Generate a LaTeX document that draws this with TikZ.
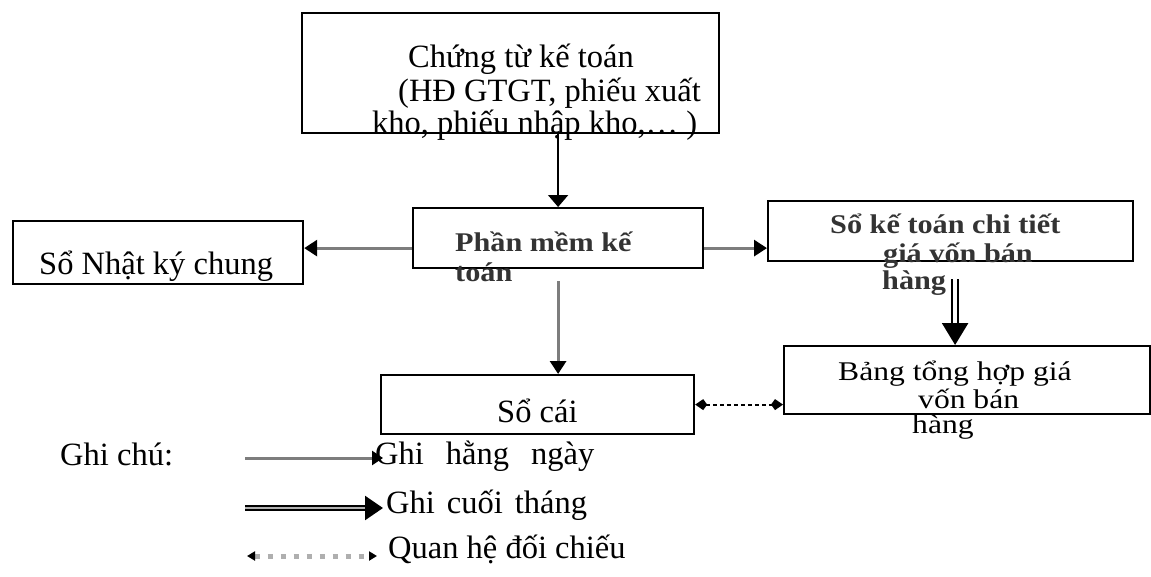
\documentclass[tikz,border=0pt]{standalone}
\usepackage{fontspec}
\setmainfont{Liberation Serif}
\newfontfamily\boxfont[FakeStretch=1.12]{Liberation Serif}
\newfontfamily\tablefont[FakeStretch=1.17]{Liberation Serif}
\usetikzlibrary{arrows.meta,calc}
\definecolor{linegray}{RGB}{125,125,125}
\definecolor{dotgray}{RGB}{175,175,175}

\begin{document}
\begin{tikzpicture}[x=1pt,y=-1pt,
  box/.style={draw=black, line width=2.2pt, rectangle, inner sep=0pt, anchor=north west},
  txt/.style={inner sep=0pt, anchor=base west, font=\fontsize{32.5}{36}\selectfont},
  boldtxt/.style={inner sep=0pt, anchor=base west, font=\boxfont\bfseries\fontsize{27}{30}\selectfont, text=black!80},
  tabtxt/.style={inner sep=0pt, anchor=base west, font=\tablefont\fontsize{27}{30}\selectfont},
  dailyarrow/.style={draw=linegray, line width=3pt, -{Triangle[length=13pt,width=16pt,color=black]}},
  mainarrow/.style={draw=black, line width=2pt, -{Triangle[length=12pt,width=20pt]}},
  montharrow/.style={draw=black, double=white, double distance=3.5pt, line width=2.6pt, -{Triangle[length=22pt,width=26pt]}},
  checkarrow/.style={draw=black, line width=2pt, dash pattern=on 4pt off 3pt,
    {Kite[length=12pt,width=11pt,inset=4pt]}-{Kite[length=12pt,width=11pt,inset=4pt]}},
]
\useasboundingbox (0,0) rectangle (1151,576);

% boxes
\node[box, minimum width=417pt, minimum height=120pt] (tb)  at (301,12)  {};
\node[box, minimum width=290pt, minimum height=60pt]  (pm)  at (412,207) {};
\node[box, minimum width=290pt, minimum height=63pt]  (snk) at (12,220)  {};
\node[box, minimum width=365pt, minimum height=60pt]  (skt) at (767,200) {};
\node[box, minimum width=366pt, minimum height=68pt]  (bth) at (783,345) {};
\node[box, minimum width=313pt, minimum height=59pt]  (sc)  at (380,374) {};

% box texts
\node[txt] (tb1) at (408,67)  {Chứng từ kế toán};
\node[txt] (tb2) at (398,101) {(HĐ GTGT, phiếu xuất};
\node[txt] (tb3) at (372,133) {kho, phiếu nhập kho,… )};
\node[txt] (snkt) at (39,274) {Sổ Nhật ký chung};
\node[boldtxt] (pm1) at (455,251) {Phần mềm kế};
\node[boldtxt] (pm2) at (455,281) {toán};
\node[boldtxt] (skt1) at (830,233) {Sổ kế toán chi tiết};
\node[boldtxt] (skt2) at (883,262) {giá vốn bán};
\node[boldtxt] (skt3) at (882,289) {hàng};
\node[tabtxt] (bth1) at (838,380) {Bảng tổng hợp giá};
\node[tabtxt] (bth2) at (918,408) {vốn bán};
\node[tabtxt] (bth3) at (912,433) {hàng};
\node[txt] (sct) at (497,422) {Sổ cái};

% connectors
\draw[mainarrow] (tb.south -| pm.north) -- (pm.north);
\draw[dailyarrow] ([yshift=-10pt]pm.west) -- ([yshift=-10pt]pm.west -| snk.east);
\draw[dailyarrow] ([yshift=-10pt]pm.east) -- ([yshift=-10pt]pm.east -| skt.west);
\draw[dailyarrow] ([yshift=-12pt]pm.south) -- (pm.south |- sc.north);
\coordinate (dbl) at ([xshift=-12pt]bth.north);
\draw[montharrow] ([yshift=-17pt]dbl |- skt.south) -- (dbl);
\draw[checkarrow] (sc.east) -- (sc.east -| bth.west);

% legend
\node[txt] (note) at (60,465) {Ghi chú:};
\coordinate (l1s) at (245,458);
\coordinate (l1e) at (383,458);
\coordinate (l2s) at (245,508);
\coordinate (l2e) at (383,508);
\coordinate (l3s) at (247,556);
\coordinate (l3e) at (377,556);
\draw[draw=linegray, line width=3pt, -{Triangle[length=11pt,width=14pt,color=black]}] (l1s) -- (l1e);
\draw[draw=black, double=linegray!60, double distance=2pt, line width=2.4pt, -{Triangle[length=18pt,width=24pt]}] (l2s) -- (l2e);
\draw[draw=dotgray, line width=5pt, dash pattern=on 5pt off 8pt,
  {Triangle[length=8pt,width=9pt,color=black]}-{Triangle[length=8pt,width=9pt,color=black]}] (l3s) -- (l3e);
\node[txt] (lg1) at (375,464) {Ghi\hspace{22pt}hằng\hspace{22pt}ngày};
\node[txt] (lg2) at (386,513) {Ghi\hspace{12pt}cuối\hspace{12pt}tháng};
\node[txt] (lg3) at (388,558) {Quan hệ đối chiếu};
\end{tikzpicture}
\end{document}
